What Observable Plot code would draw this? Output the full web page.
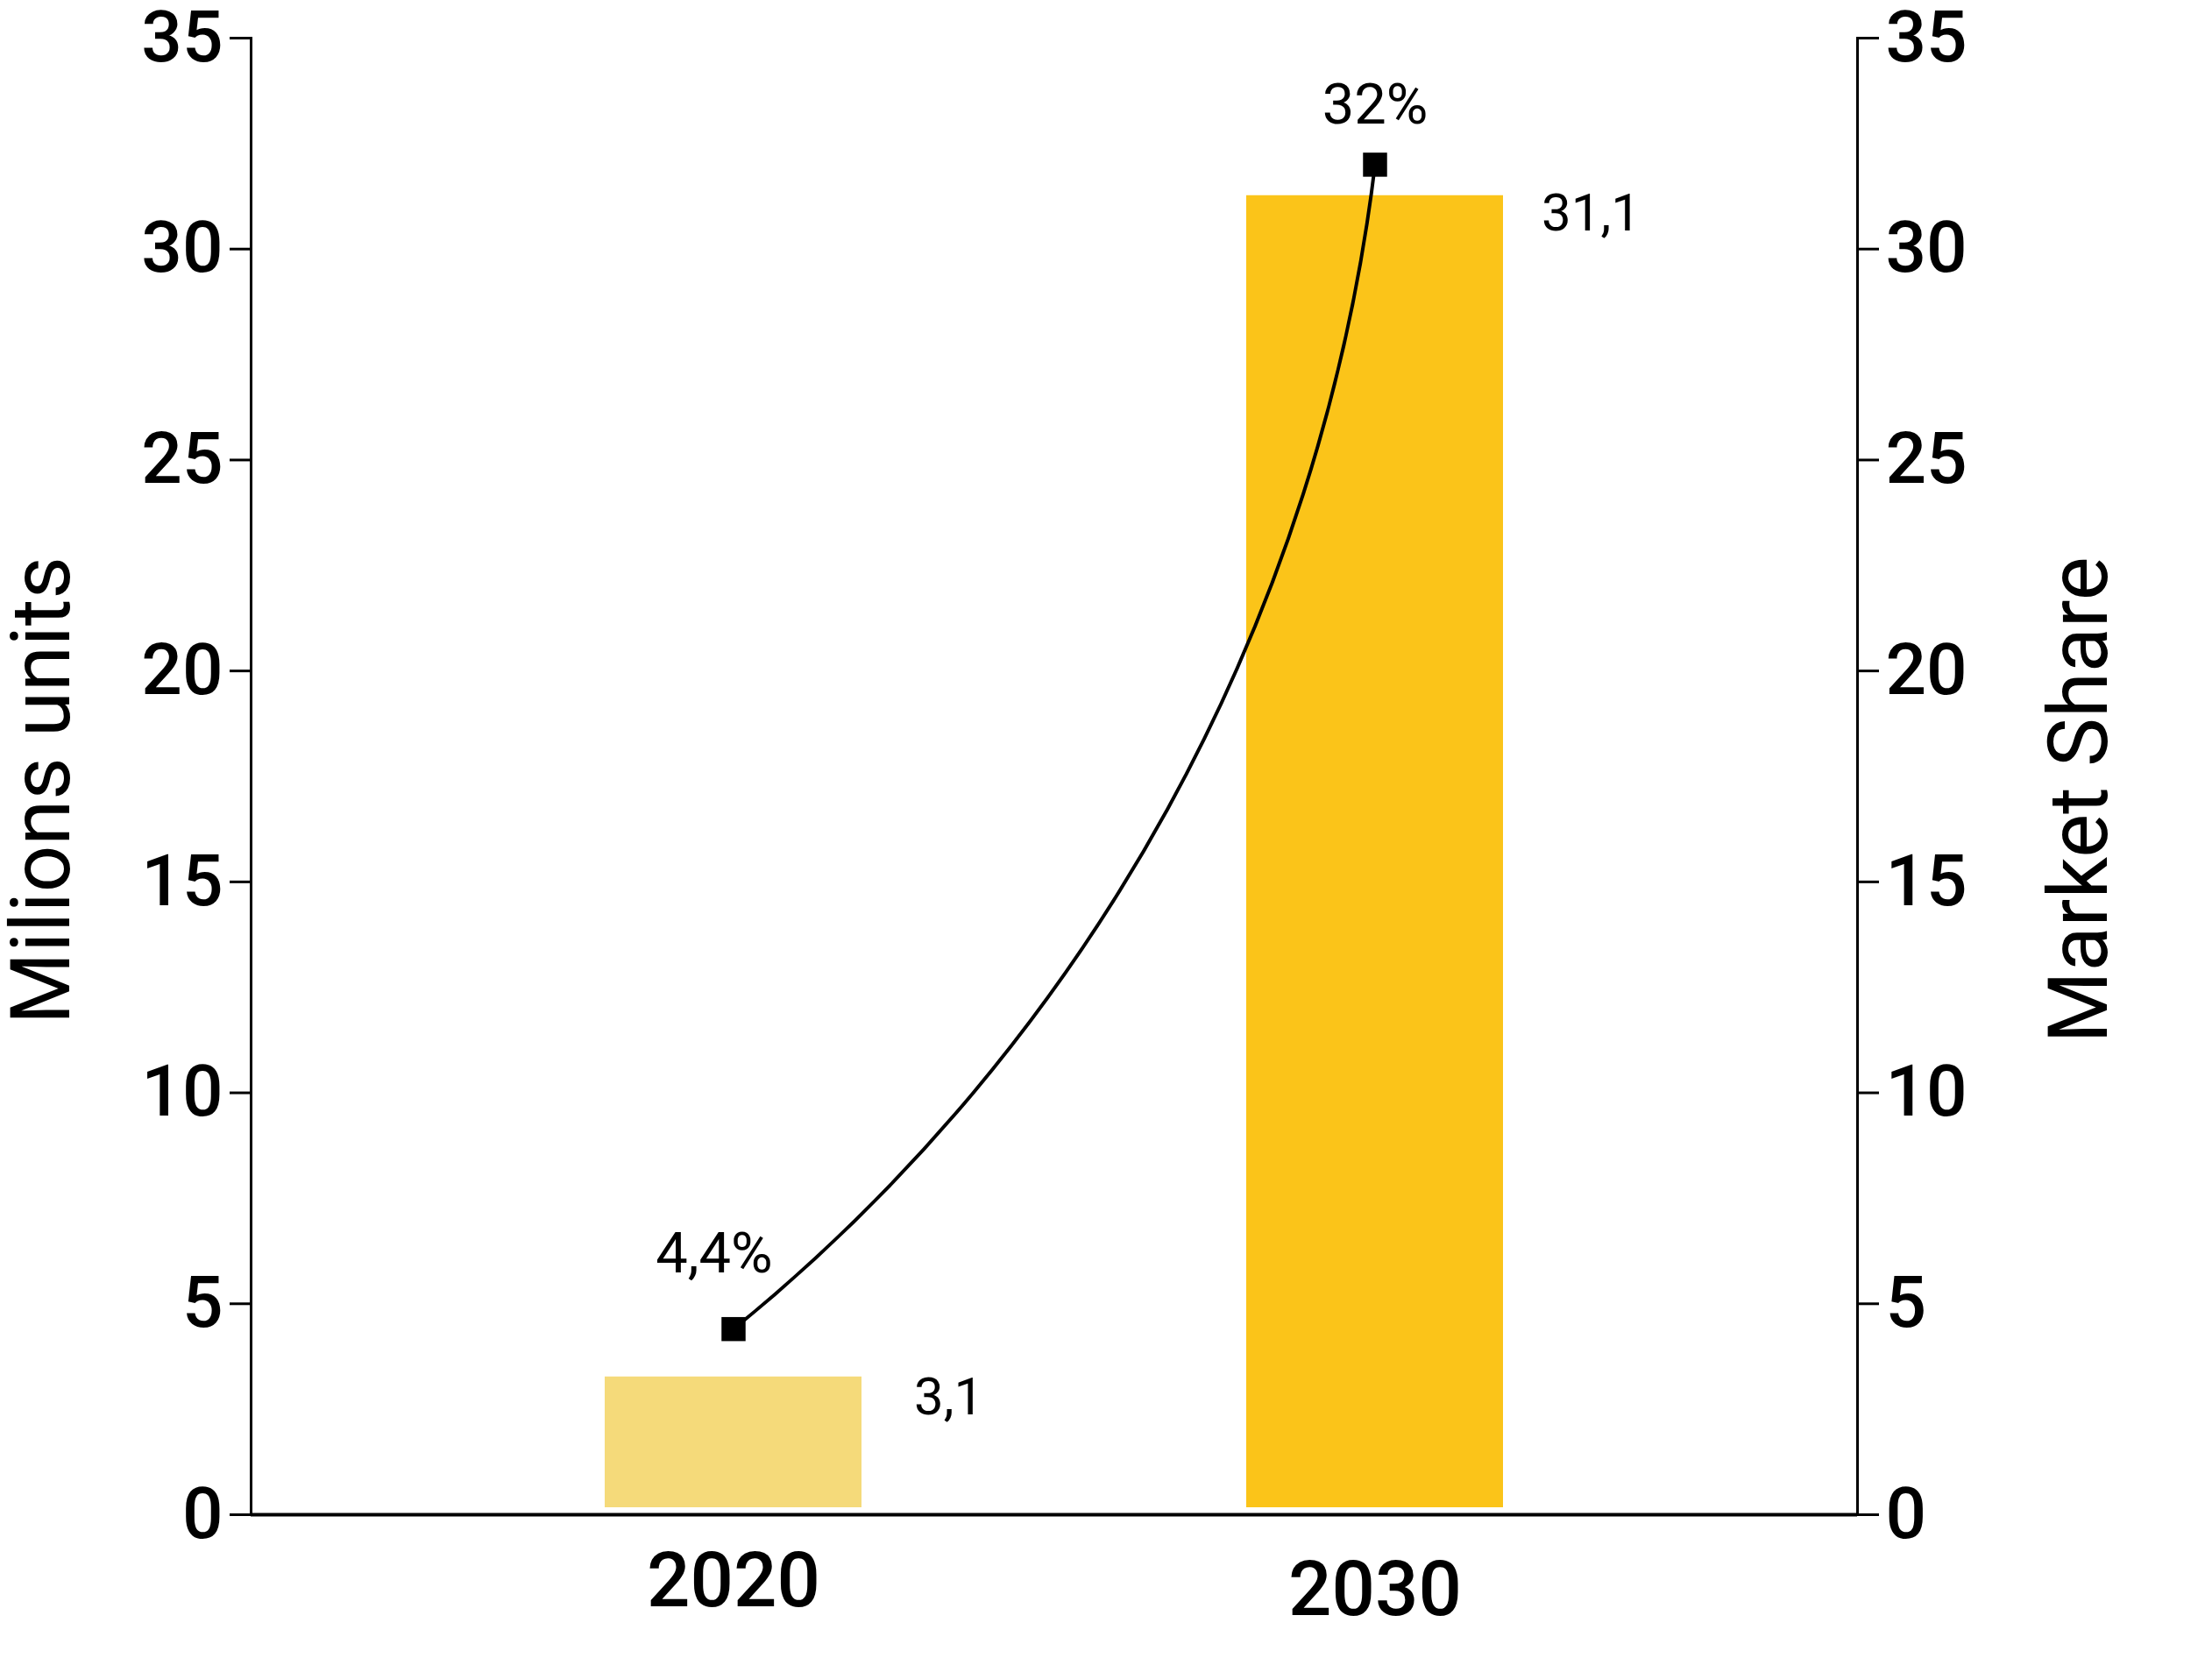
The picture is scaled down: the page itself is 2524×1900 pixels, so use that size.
<!DOCTYPE html>
<html>
<head>
<meta charset="utf-8">
<script src="https://cdn.jsdelivr.net/npm/d3@7"></script>
<script src="https://cdn.jsdelivr.net/npm/@observablehq/plot@0.6"></script>
<style>
  html, body { margin: 0; padding: 0; background: #ffffff; }
  #chart { width: 2524px; height: 1900px; }
</style>
</head>
<body>
<div id="chart"></div>
<script>
// ---- data ----
const years = ["2020", "2030"];
const units = [3.1, 31.1];          // millions units (bars)
const shares = [4.4, 32];           // market share (%) (line)
const yTicks = [0, 5, 10, 15, 20, 25, 30, 35];
const leftTitle = "Milions units";
const rightTitle = "Market Share";
const barColors = ["#F5DA7A", "#FBC419"];

// ---- derived tables ----
const rows = years.map((year, i) => ({year, units: units[i], share: shares[i]}));
const link = [{from: years[0], to: years[1], s0: shares[0], s1: shares[1]}];
const comma = v => String(v).replace(".", ",");

const font = "Roboto, 'DejaVu Sans', sans-serif";

const pctLabel = (i, dx, dy) => Plot.text(rows.filter((d, j) => j === i), {
  x: "year", y: "share", text: d => comma(d.share) + "%",
  dx, dy, fontSize: 65, fill: "black"
});
const valLabel = (i, dx, dy) => Plot.text(rows.filter((d, j) => j === i), {
  x: "year", y: "units", text: d => comma(d.units),
  textAnchor: "start", dx, dy, fontSize: 60, fill: "black"
});

const chart = Plot.plot({
  width: 2524,
  height: 1900,
  marginLeft: 286,
  marginRight: 405,
  marginTop: 43,
  marginBottom: 172,
  style: {fontFamily: font, background: "white", color: "black"},
  x: {domain: years, paddingInner: 0.6, paddingOuter: 0.552, axis: null},
  y: {domain: [0, 35], axis: null},
  color: {domain: years, range: barColors},
  marks: [
    Plot.barY(rows, {x: "year", y: "units", fill: "year", dy: -8}),
    Plot.ruleY([0], {stroke: "black", strokeWidth: 4}),
    Plot.frame({anchor: "left", stroke: "black", strokeWidth: 3}),
    Plot.frame({anchor: "right", stroke: "black", strokeWidth: 3}),
    Plot.axisY({anchor: "left", ticks: yTicks, tickFormat: d => String(d), tickSize: 24, tickPadding: 8,
      fontSize: 82, fontWeight: 500, strokeWidth: 3, label: null}),
    Plot.axisY({anchor: "right", ticks: yTicks, tickFormat: d => String(d), tickSize: 24, tickPadding: 8,
      fontSize: 82, fontWeight: 500, strokeWidth: 3, label: null}),
    Plot.axisX({ticks: [years[0]], tickSize: 0, tickPadding: 43, fontSize: 87, fontWeight: 500, label: null}),
    Plot.axisX({ticks: [years[1]], tickSize: 0, tickPadding: 53, fontSize: 87, fontWeight: 500, label: null}),
    Plot.arrow(link, {x1: "from", y1: "s0", x2: "to", y2: "s1", bend: -22, headLength: 0,
      stroke: "black", strokeWidth: 4}),
    Plot.dot(rows, {x: "year", y: "share", symbol: "square", r: 15.5, fill: "black", stroke: "none"}),
    pctLabel(0, -22, -85),
    pctLabel(1, 0, -68),
    valLabel(0, 206, 16),
    valLabel(1, 190, 13),
    Plot.text([leftTitle], {frameAnchor: "left", text: d => d, rotate: -90, textAnchor: "middle",
      dx: -238, dy: 16, fontSize: 94, fill: "black"}),
    Plot.text([rightTitle], {frameAnchor: "right", text: d => d, rotate: -90, textAnchor: "middle",
      dx: 254, dy: 27, fontSize: 94, fill: "black"})
  ]
});
document.getElementById("chart").appendChild(chart);
</script>
</body>
</html>
